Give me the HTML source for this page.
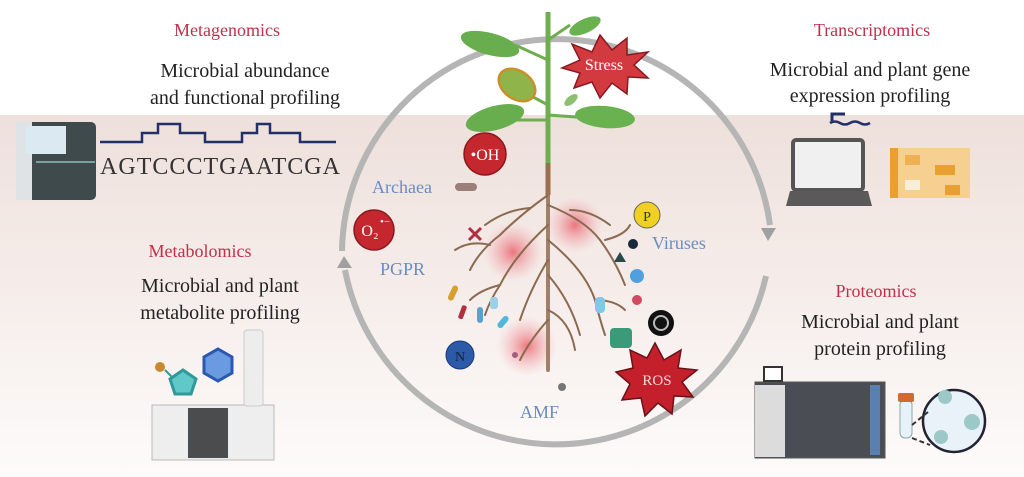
<!DOCTYPE html>
<html><head><meta charset="utf-8"><style>
html,body{margin:0;padding:0;width:1024px;height:477px;overflow:hidden;background:#fff}
svg{display:block}
text{font-family:"Liberation Serif",serif}
</style></head><body>
<svg width="1024" height="477" viewBox="0 0 1024 477" xmlns="http://www.w3.org/2000/svg">
<defs>
<linearGradient id="soil" x1="0" y1="0" x2="0" y2="1">
<stop offset="0" stop-color="#eee0db"/><stop offset="0.45" stop-color="#f5ece9"/><stop offset="1" stop-color="#fdfbfa"/>
</linearGradient>
<radialGradient id="glow"><stop offset="0" stop-color="#e8505a" stop-opacity="0.75"/><stop offset="1" stop-color="#f4a0a8" stop-opacity="0"/></radialGradient>
</defs>
<rect x="0" y="0" width="1024" height="477" fill="#fff"/>
<rect x="0" y="115" width="1024" height="362" fill="url(#soil)"/>
<!-- circle arcs: center (556,232) r 215 -->
<path d="M 342 251 A 215 215 0 0 1 770 225" fill="none" stroke="#b5b5b5" stroke-width="6"/>
<path d="M 766 276 A 215 215 0 0 1 345 270" fill="none" stroke="#b5b5b5" stroke-width="6"/>
<polygon points="761,228 776,228 768,241" fill="#a0a0a0"/>
<polygon points="337,268 352,268 344,256" fill="#a0a0a0"/>
<!-- glows -->
<circle cx="513" cy="252" r="30" fill="url(#glow)"/>
<circle cx="575" cy="225" r="28" fill="url(#glow)"/>
<circle cx="527" cy="346" r="30" fill="url(#glow)"/>
<!-- roots -->
<g stroke="#8a6a50" stroke-width="2" fill="none" stroke-linecap="round">
<path d="M548 185 L548 370" stroke-width="4" stroke="#a08068"/>
<path d="M548 195 Q520 215 500 235 Q480 250 470 270"/>
<path d="M530 208 Q505 210 485 225"/>
<path d="M548 205 Q585 220 600 240 Q615 260 625 285"/>
<path d="M570 210 Q590 210 610 225"/>
<path d="M548 225 Q515 255 500 285 Q490 300 485 315"/>
<path d="M548 240 Q585 270 595 300 Q600 320 605 335"/>
<path d="M548 260 Q530 290 520 320"/>
<path d="M548 275 Q570 300 580 335"/>
<path d="M500 285 Q480 290 470 300"/>
<path d="M595 300 Q615 300 625 310"/>
<path d="M548 320 Q530 340 520 360"/>
<path d="M548 310 Q570 320 575 350"/>
<path d="M490 245 Q470 240 455 250"/>
<path d="M605 240 Q625 235 630 225"/>
</g>
<!-- stem & leaves -->
<path d="M548 12 L548 165" stroke="#6fae4f" stroke-width="5"/>
<path d="M548 163 L548 195" stroke="#9a7050" stroke-width="5"/>
<path d="M548 60 L515 45 M548 105 L520 90 M548 120 L515 120 M548 115 L590 118 M548 40 L570 25" stroke="#6fae4f" stroke-width="3"/>
<ellipse cx="490" cy="44" rx="30" ry="11" fill="#68ad4e" transform="rotate(15 490 44)"/>
<ellipse cx="585" cy="26" rx="17" ry="7" fill="#6ab24f" transform="rotate(-25 585 26)"/>
<ellipse cx="517" cy="85" rx="20" ry="14" fill="#8fb44a" stroke="#c8902a" stroke-width="2.5" transform="rotate(35 517 85)"/>
<ellipse cx="495" cy="118" rx="30" ry="12" fill="#68ad4e" transform="rotate(-15 495 118)"/>
<ellipse cx="605" cy="117" rx="30" ry="11" fill="#6ab24f" transform="rotate(5 605 117)"/>
<ellipse cx="571" cy="100" rx="8" ry="4" fill="#8cc070" transform="rotate(-40 571 100)"/>
<!-- stress star -->
<polygon points="600,35 612,50 627,38 627,55 648,52 634,65 648,78 628,77 627,94 612,83 600,98 592,82 574,88 580,73 562,68 580,60 572,44 592,52" fill="#d23a40" stroke="#8a1820" stroke-width="1.5"/>
<text x="604" y="70" font-size="16" fill="#fff" text-anchor="middle">Stress</text>
<!-- ROS star -->
<polygon points="655,343 664,360 681,350 678,368 697,370 682,382 693,397 674,396 672,414 658,403 645,416 641,398 622,400 630,384 616,372 633,368 630,350 647,358" fill="#c4202c" stroke="#6a1018" stroke-width="1.5"/>
<text x="657" y="385" font-size="15" fill="#f4d8d8" text-anchor="middle">ROS</text>
<!-- circles -->
<circle cx="485" cy="154" r="21" fill="#c4282e" stroke="#8a1820" stroke-width="1.5"/>
<text x="485" y="160" font-size="16" fill="#fff" text-anchor="middle">•OH</text>
<circle cx="374" cy="230" r="20" fill="#c4282e" stroke="#8a1820" stroke-width="1.5"/>
<text x="370" y="236" font-size="16" fill="#fff" text-anchor="middle">O₂</text>
<text x="380" y="225" font-size="11" fill="#fff">•−</text>
<circle cx="647" cy="215" r="13" fill="#f0d020" stroke="#666" stroke-width="1"/>
<text x="647" y="221" font-size="14" fill="#333" text-anchor="middle">P</text>
<circle cx="460" cy="355" r="14" fill="#2d5aa8" stroke="#1a3a7a"/>
<text x="460" y="361" font-size="14" fill="#123" text-anchor="middle">N</text>
<circle cx="661" cy="323" r="13" fill="#111"/>
<circle cx="661" cy="323" r="7" fill="none" stroke="#bbb" stroke-width="2"/>
<circle cx="633" cy="244" r="5" fill="#1a2a3a"/>
<polygon points="614,262 620,252 626,262" fill="#2a4a4a"/>
<circle cx="637" cy="276" r="7" fill="#50a0e0"/>
<circle cx="637" cy="300" r="5" fill="#d04a60"/>
<rect x="455" y="183" width="22" height="8" rx="4" fill="#9a8078"/>
<path d="M469 228 l12 12 M481 228 l-12 12" stroke="#b03040" stroke-width="3"/>
<rect x="610" y="328" width="22" height="20" rx="4" fill="#3a9a7a"/>
<g><rect x="450" y="285" width="6" height="16" rx="3" fill="#d8a030" transform="rotate(25 453 293)"/><rect x="460" y="305" width="5" height="14" rx="2" fill="#b03040" transform="rotate(20 462 312)"/>
<rect x="477" y="307" width="6" height="16" rx="3" fill="#5aa0d0"/><rect x="490" y="297" width="8" height="12" rx="3" fill="#9ad0e8"/>
<rect x="500" y="315" width="6" height="14" rx="3" fill="#50b8d8" transform="rotate(40 503 322)"/>
<rect x="595" y="297" width="10" height="16" rx="4" fill="#80c8e8"/>
<circle cx="562" cy="387" r="4" fill="#777"/><circle cx="515" cy="355" r="3" fill="#a06080"/></g>
<!-- blue labels -->
<g fill="#6a8cc0" font-size="18">
<text x="372" y="193">Archaea</text>
<text x="380" y="275">PGPR</text>
<text x="652" y="249">Viruses</text>
<text x="520" y="418">AMF</text>
</g>
<!-- headings -->
<g fill="#c0304a" font-size="18" text-anchor="middle">
<text x="227" y="36">Metagenomics</text>
<text x="200" y="257">Metabolomics</text>
<text x="872" y="36">Transcriptomics</text>
<text x="876" y="297">Proteomics</text>
</g>
<g fill="#222" font-size="20" text-anchor="middle">
<text x="245" y="77">Microbial abundance</text>
<text x="245" y="104">and functional profiling</text>
<text x="220" y="292">Microbial and plant</text>
<text x="220" y="319">metabolite profiling</text>
<text x="870" y="76">Microbial and plant gene</text>
<text x="870" y="102">expression profiling</text>
<text x="880" y="328">Microbial and plant</text>
<text x="880" y="355">protein profiling</text>
</g>
<text x="100" y="174" font-size="24" fill="#333" textLength="240">AGTCCCTGAATCGA</text>
<path d="M100 142 H142 V133 H158 V124 H180 V133 H205 V142 H242 V133 H257 V124 H270 V133 H300 V142 H336" fill="none" stroke="#22306a" stroke-width="2.5"/>
<!-- sequencer -->
<rect x="16" y="122" width="80" height="78" rx="5" fill="#3f4a4c"/>
<rect x="16" y="122" width="16" height="78" fill="#dfe3e6"/>
<rect x="26" y="126" width="40" height="28" fill="#dbeaf2"/>
<path d="M36 162 H95" stroke="#7aa0a0" stroke-width="2"/>
<!-- laptop & heatmap -->
<rect x="793" y="140" width="70" height="50" rx="3" fill="#f0f0f0" stroke="#555" stroke-width="4"/>
<path d="M790 191 H868 L872 206 H786 Z" fill="#5a5a5a"/>
<rect x="890" y="148" width="80" height="50" fill="#f6d090"/>
<rect x="890" y="148" width="8" height="50" fill="#e8a030"/>
<rect x="905" y="155" width="15" height="10" fill="#eeb050"/><rect x="935" y="165" width="20" height="10" fill="#e8a030"/>
<rect x="905" y="180" width="15" height="10" fill="#fbeed8"/><rect x="945" y="185" width="15" height="10" fill="#e8a030"/>
<path d="M830 123 Q835 120 840 123 Q845 126 850 123 Q855 120 860 123 Q865 126 870 123" fill="none" stroke="#22306a" stroke-width="2.5"/>
<path d="M832 121 V114 H845" fill="none" stroke="#22306a" stroke-width="3"/>
<!-- metabolomics instrument -->
<rect x="152" y="405" width="122" height="55" fill="#eeeeee" stroke="#bbb"/>
<rect x="188" y="408" width="40" height="50" fill="#4a4c4e"/>
<rect x="244" y="330" width="19" height="76" rx="3" fill="#ededed" stroke="#ccc"/>
<polygon points="183,370 196,379 191,394 175,394 170,379" fill="#60c8c8" stroke="#2e9a9a" stroke-width="3"/>
<polygon points="218,349 232,357 232,373 218,381 204,373 204,357" fill="#6a9ae0" stroke="#2a58b0" stroke-width="3"/>
<circle cx="160" cy="367" r="5" fill="#c88a30"/>
<path d="M165 370 L172 377" stroke="#2e9a9a" stroke-width="2"/>
<!-- proteomics instrument -->
<rect x="755" y="382" width="130" height="76" fill="#4a4e54" stroke="#555"/>
<rect x="755" y="385" width="30" height="72" fill="#dcdcdc"/>
<rect x="870" y="385" width="10" height="70" fill="#5a80b0"/>
<rect x="764" y="367" width="18" height="14" fill="#fff" stroke="#333" stroke-width="2"/>
<rect x="900" y="400" width="12" height="38" rx="5" fill="#e8f0f8" stroke="#8aa" stroke-width="1"/>
<rect x="898" y="393" width="16" height="9" rx="2" fill="#d06a30"/>
<circle cx="954" cy="421" r="31" fill="#e8f2f8" stroke="#223" stroke-width="2.5"/>
<circle cx="945" cy="397" r="7" fill="#9cc8c8"/><circle cx="972" cy="422" r="8" fill="#9cc8c8"/><circle cx="941" cy="437" r="7" fill="#9cc8c8"/>
<path d="M912 425 L928 412 M912 438 L930 445" stroke="#333" stroke-width="2" stroke-dasharray="5 3"/>
</svg>
</body></html>
